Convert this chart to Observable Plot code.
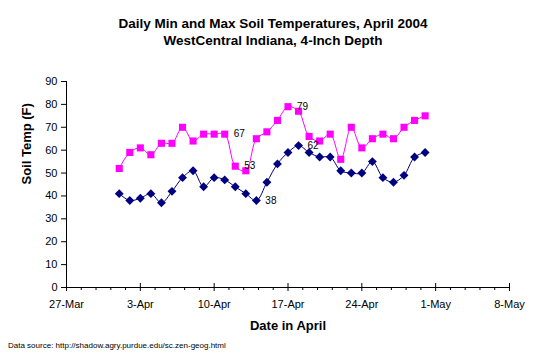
<!DOCTYPE html>
<html>
<head>
<meta charset="utf-8">
<script src="https://cdn.jsdelivr.net/npm/d3@7"></script>
<script src="https://cdn.jsdelivr.net/npm/@observablehq/plot@0.6"></script>
<style>
  html, body { margin: 0; padding: 0; background: #fff; }
  body { width: 546px; height: 357px; overflow: hidden; font-family: "Liberation Sans", Arial, sans-serif; }
  #title { padding-top: 15px; height: 34px; text-align: center; font-weight: bold; font-size: 13.5px; line-height: 17px; color: #000; }
  #caption { margin-left: 8px; margin-top: 1px; font-size: 8px; line-height: 10px; color: #000; }
  svg { display: block; }
</style>
</head>
<body>
<div id="title">Daily Min and Max Soil Temperatures, April 2004<br>WestCentral Indiana, 4-Inch Depth</div>
<div id="chart"></div>
<div id="caption">Data source: http://shadow.agry.purdue.edu/sc.zen-geog.html</div>
<script>
// Day of April 2004
const days = [1,2,3,4,5,6,7,8,9,10,11,12,13,14,15,16,17,18,19,20,21,22,23,24,25,26,27,28,29,30];
// Daily maximum soil temperature (F)
const maxTemp = [52,59,61,58,63,63,70,64,67,67,67,53,51,65,68,73,79,77,66,64,67,56,70,61,65,67,65,70,73,75];
// Daily minimum soil temperature (F)
const minTemp = [41,38,39,41,37,42,48,51,44,48,47,44,41,38,46,54,59,62,59,57,57,51,50,50,55,48,46,49,57,59];
// Data labels shown on the chart (day, series)
const maxLabelDays = [11, 12, 17];
const minLabelDays = [14, 18];
// Axis tick values
const xTickLabels = ["2004-03-27","2004-04-03","2004-04-10","2004-04-17","2004-04-24","2004-05-01","2004-05-08"];
const yTicks = [0,10,20,30,40,50,60,70,80,90];

const dayMs = 24 * 3600 * 1000;
const xTicks = xTickLabels.map(s => new Date(s + "T00:00:00Z"));
const minorTicks = [];
for (let i = 0; i < xTicks.length - 1; i++) {
  for (let k = 1; k < 5; k++) minorTicks.push(new Date(+xTicks[i] + k * 7 / 5 * dayMs));
}
const data = days.map((d, i) => ({date: new Date(Date.UTC(2004, 3, d)), day: d, max: maxTemp[i], min: minTemp[i]}));
const maxLabels = data.filter(d => maxLabelDays.includes(d.day));
const minLabels = data.filter(d => minLabelDays.includes(d.day));
const fmt = d3.utcFormat("%-d-%b");

const chart = Plot.plot({
  width: 546,
  height: 291,
  marginTop: 32,
  marginBottom: 53,
  marginLeft: 66,
  marginRight: 37,
  style: {fontFamily: "Liberation Sans, Arial, sans-serif", fontSize: "11px", color: "#000", background: "#fff"},
  x: {type: "utc", domain: [xTicks[0], xTicks[xTicks.length - 1]]},
  y: {domain: [0, 90]},
  marks: [
    Plot.axisY({ticks: yTicks, tickSize: 5, tickPadding: 4, label: null, fontSize: 11}),
    Plot.axisX({ticks: xTicks, tickSize: 4, tickPadding: 9, tickFormat: fmt, label: null, fontSize: 11}),
    Plot.axisX({ticks: xTicks, tickSize: 4, dy: -4, tickFormat: () => "", label: null}),
    Plot.axisX({ticks: minorTicks, tickSize: 3, tickFormat: () => "", label: null}),
    Plot.ruleX([xTicks[0]], {stroke: "#000"}),
    Plot.ruleY([0], {stroke: "#000"}),
    Plot.line(data, {x: "date", y: "min", stroke: "#000080", strokeWidth: 1, curve: "catmull-rom"}),
    Plot.line(data, {x: "date", y: "max", stroke: "#FF00FF", strokeWidth: 1, curve: "catmull-rom"}),
    Plot.dot(data, {x: "date", y: "min", symbol: "diamond2", r: 4, fill: "#000080", stroke: "none"}),
    Plot.dot(data, {x: "date", y: "max", symbol: "square", r: 4, fill: "#FF00FF", stroke: "none"}),
    Plot.text(maxLabels, {x: "date", y: "max", text: d => String(d.max), textAnchor: "start", dx: 9, fontSize: 10, fill: "#000"}),
    Plot.text(minLabels, {x: "date", y: "min", text: d => String(d.min), textAnchor: "start", dx: 9, fontSize: 10, fill: "#000"}),
    Plot.text(["Soil Temp (F)"], {frameAnchor: "left", dx: -40, rotate: -90, fontWeight: "bold", fontSize: 13, fill: "#000"}),
    Plot.text(["Date in April"], {frameAnchor: "bottom", dy: 42, fontWeight: "bold", fontSize: 13, fill: "#000"})
  ]
});
document.getElementById("chart").appendChild(chart);
</script>
</body>
</html>
